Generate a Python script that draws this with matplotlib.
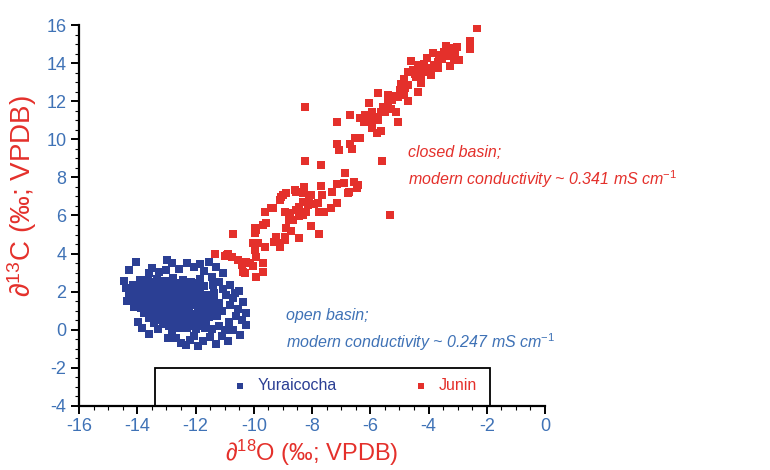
import matplotlib
matplotlib.use("Agg")
import matplotlib.pyplot as plt
from matplotlib.patches import Rectangle
from matplotlib.ticker import AutoMinorLocator

plt.rcParams['font.family'] = ['Liberation Sans', 'DejaVu Sans']
plt.rcParams['mathtext.fontset'] = 'custom'
plt.rcParams['mathtext.rm'] = 'Liberation Sans'
plt.rcParams['mathtext.it'] = 'Liberation Sans:italic'

# ---- data (d18O, d13C) ----
junin = [
    (-2.32, 15.83), (-2.58, 15.18), (-2.57, 14.74), (-3.02, 14.83), (-3.40, 14.90), (-3.29, 14.78),
    (-3.08, 14.50), (-3.46, 14.60), (-3.63, 14.40), (-2.95, 14.16), (-3.12, 14.16), (-3.25, 13.86),
    (-3.68, 14.07), (-3.80, 13.90), (-4.04, 14.25), (-3.91, 13.73), (-3.68, 13.73), (-4.08, 13.55),
    (-3.91, 13.38), (-4.30, 13.64), (-4.36, 13.90), (-4.59, 14.13), (-4.53, 13.64), (-4.70, 13.55),
    (-4.25, 13.20), (-4.42, 13.29), (-4.25, 12.94), (-4.85, 13.17), (-4.70, 12.85), (-4.79, 12.71),
    (-4.98, 12.59), (-4.84, 12.33), (-4.72, 12.01), (-4.36, 12.47), (-5.27, 12.29), (-5.38, 12.33),
    (-5.24, 12.06), (-5.38, 12.01), (-5.72, 12.41), (-6.04, 11.92), (-5.13, 11.45), (-5.49, 11.42),
    (-5.64, 11.45), (-5.95, 11.45), (-5.89, 11.19), (-6.17, 11.28), (-6.34, 11.10), (-6.68, 11.28),
    (-5.72, 11.01), (-6.12, 10.89), (-5.04, 10.92), (-7.13, 10.89), (-3.55, 14.20), (-3.35, 14.35),
    (-4.15, 13.95), (-4.45, 13.45), (-3.85, 14.55), (-4.95, 12.90), (-5.05, 12.20), (-5.55, 11.70),
    (-5.30, 11.60),
    (-8.23, 11.68), (-6.23, 10.92), (-6.00, 11.01), (-5.83, 11.19), (-5.95, 10.58), (-5.78, 10.31),
    (-5.63, 10.45), (-6.51, 10.05), (-6.34, 10.05), (-7.13, 9.75), (-7.08, 9.44), (-6.68, 9.75),
    (-6.63, 9.49), (-8.23, 8.88), (-7.68, 8.65), (-5.58, 8.88), (-6.85, 8.21),
    (-6.91, 7.69), (-7.13, 7.65), (-6.57, 7.74), (-6.42, 7.60), (-6.77, 7.20), (-7.30, 7.22),
    (-7.70, 7.55), (-7.64, 7.08), (-7.13, 6.64), (-7.36, 6.38), (-7.59, 6.20), (-5.32, 6.03),
    (-8.26, 7.51), (-8.55, 7.25), (-8.89, 7.20), (-8.32, 7.16), (-8.04, 7.08), (-9.06, 6.99),
    (-8.32, 6.73), (-8.15, 6.55), (-7.93, 6.60), (-8.55, 6.29), (-8.75, 6.15), (-8.94, 6.20),
    (-8.21, 6.20), (-7.76, 6.17), (-8.44, 5.97), (-9.40, 6.38), (-9.62, 6.20), (-9.57, 5.59),
    (-9.68, 5.50), (-8.78, 5.76), (-8.89, 5.33), (-8.72, 5.20), (-8.04, 5.45), (-7.76, 5.03),
    (-8.44, 4.80), (-9.23, 4.89), (-9.29, 4.63), (-8.94, 4.71), (-9.91, 5.24), (-9.85, 4.54),
    (-9.62, 4.36), (-9.11, 4.36),
    (-10.72, 5.03), (-9.96, 5.33), (-9.96, 5.07), (-10.02, 4.54), (-9.96, 4.19), (-9.91, 3.84),
    (-9.68, 3.49), (-10.25, 3.58), (-10.42, 3.40), (-10.31, 2.97), (-10.53, 3.66), (-10.93, 3.93),
    (-10.76, 3.84), (-11.32, 3.98), (-10.98, 3.87), (-10.87, 4.00), (-10.02, 3.35), (-9.91, 2.79),
    (-9.68, 3.05), (-10.36, 3.05), (-10.13, 3.49),
    (-9.00, 7.08), (-9.11, 6.81), (-9.34, 6.38), (-8.60, 7.34), (-8.10, 6.99), (-7.81, 6.64),
    (-8.44, 6.47), (-8.66, 5.76), (-8.32, 6.03), (-8.94, 4.89), (-9.11, 4.54), (-6.74, 7.25),
    (-6.45, 7.43),
]

yuraicocha = [
    (-14.29, 3.14), (-14.04, 3.58), (-14.38, 2.18), (-14.16, 2.35), (-14.27, 1.83), (-13.99, 0.43),
    (-12.97, 3.66), (-12.80, 3.49), (-13.02, 3.14), (-13.48, 3.23), (-13.25, 3.05), (-13.59, 2.97),
    (-13.76, 2.61), (-12.80, -0.10), (-12.68, -0.45), (-12.51, -0.71), (-12.34, -0.80), (-12.74, 0.25),
    (-11.55, 3.58), (-11.28, 3.31), (-11.04, 2.97), (-10.81, 2.35), (-10.64, 1.92), (-10.36, 1.47),
    (-10.25, 0.87), (-10.42, 0.51), (-10.25, 0.25), (-10.47, -0.27), (-10.70, -0.01),
    (-12.30, 3.50), (-12.05, 3.30), (-11.85, 3.45), (-12.55, 3.20), (-14.45, 2.55), (-14.10, 1.20),
    (-14.35, 1.50), (-13.85, 0.10), (-13.60, -0.20), (-13.30, 0.05), (-12.95, -0.45), (-12.20, -0.55),
    (-12.05, -0.30), (-11.90, -0.85), (-11.75, -0.60), (-11.50, -0.40), (-11.30, -0.75), (-11.10, -0.35),
    (-10.90, -0.60), (-11.00, 0.00), (-11.20, 0.20), (-10.85, 0.40), (-10.60, 0.75), (-10.55, 1.10),
    (-10.80, 1.30), (-10.70, 1.65), (-10.95, 1.85), (-11.05, 2.15), (-11.20, 2.50), (-11.45, 2.75),
    (-11.70, 3.10), (-11.35, 1.60), (-11.10, 1.00), (-11.25, 0.70), (-11.40, 1.25), (-10.50, 2.05),
    (-13.90, 2.62), (-13.62, 2.55), (-13.31, 2.66), (-13.04, 2.58), (-12.77, 2.70), (-12.43, 2.60),
    (-12.16, 2.52), (-11.86, 2.64), (-14.02, 2.33), (-13.74, 2.40), (-13.47, 2.30), (-13.18, 2.38),
    (-12.92, 2.28), (-12.61, 2.41), (-12.28, 2.32), (-12.02, 2.37), (-11.71, 2.29), (-11.41, 2.35),
    (-14.10, 2.08), (-13.83, 2.14), (-13.56, 2.05), (-13.28, 2.12), (-13.01, 2.03), (-12.69, 2.15),
    (-12.42, 2.07), (-12.11, 2.11), (-11.84, 2.02), (-13.96, 1.88), (-13.68, 1.93), (-13.41, 1.84),
    (-13.14, 1.91), (-12.86, 1.86), (-12.53, 1.95), (-12.26, 1.83), (-11.93, 1.90), (-11.63, 1.85),
    (-11.36, 1.92), (-14.16, 1.63), (-13.86, 1.68), (-13.58, 1.60), (-13.31, 1.70), (-13.03, 1.62),
    (-12.74, 1.67), (-12.46, 1.58), (-12.13, 1.65), (-11.81, 1.61), (-11.54, 1.69), (-14.01, 1.38),
    (-13.72, 1.43), (-13.44, 1.36), (-13.19, 1.45), (-12.88, 1.37), (-12.59, 1.42), (-12.31, 1.35),
    (-11.98, 1.44), (-11.69, 1.39), (-11.44, 1.33), (-11.18, 1.41), (-13.88, 1.14), (-13.61, 1.18),
    (-13.33, 1.10), (-13.06, 1.16), (-12.79, 1.12), (-12.48, 1.19), (-12.21, 1.09), (-11.90, 1.15),
    (-11.58, 1.12), (-11.31, 1.17), (-13.76, 0.88), (-13.49, 0.93), (-13.22, 0.86), (-12.94, 0.91),
    (-12.64, 0.87), (-12.36, 0.94), (-12.04, 0.85), (-11.74, 0.90), (-11.48, 0.86), (-13.58, 0.63),
    (-13.29, 0.68), (-13.01, 0.60), (-12.71, 0.66), (-12.39, 0.62), (-12.09, 0.69), (-11.79, 0.61),
    (-11.53, 0.67), (-13.41, 0.37), (-13.12, 0.33), (-12.84, 0.39), (-12.52, 0.31), (-12.19, 0.36),
    (-11.88, 0.32), (-11.63, 0.38), (-12.58, 0.08), (-12.28, 0.12), (-11.97, 0.05), (-11.68, 0.10),
    (-11.42, 0.04),
    (-13.76, 2.48), (-13.45, 2.50), (-13.16, 2.47), (-12.89, 2.51), (-12.58, 2.46), (-12.30, 2.49),
    (-12.00, 2.45), (-13.95, 2.22), (-13.61, 2.25), (-13.33, 2.20), (-13.05, 2.24), (-12.76, 2.19),
    (-12.46, 2.26), (-12.15, 2.21), (-11.87, 2.23), (-13.70, 2.00), (-13.43, 1.98), (-13.15, 2.01),
    (-12.84, 1.97), (-12.56, 2.00), (-12.25, 1.99), (-11.98, 2.00), (-14.05, 1.76), (-13.80, 1.79),
    (-13.52, 1.75), (-13.24, 1.80), (-12.95, 1.77), (-12.66, 1.78), (-12.38, 1.74), (-12.04, 1.79),
    (-11.72, 1.76), (-13.86, 1.53), (-13.57, 1.50), (-13.30, 1.55), (-13.00, 1.51), (-12.72, 1.54),
    (-12.42, 1.49), (-12.15, 1.53), (-11.84, 1.50), (-11.57, 1.52), (-13.78, 1.27), (-13.50, 1.25),
    (-13.22, 1.29), (-12.95, 1.24), (-12.66, 1.28), (-12.38, 1.26), (-12.07, 1.29), (-11.78, 1.25),
    (-11.50, 1.24), (-13.62, 1.02), (-13.36, 0.99), (-13.09, 1.03), (-12.82, 0.98), (-12.52, 1.01),
    (-12.22, 0.99), (-11.92, 1.03), (-11.63, 0.99), (-13.45, 0.77), (-13.17, 0.75), (-12.88, 0.79),
    (-12.57, 0.74), (-12.26, 0.78), (-11.95, 0.76), (-11.67, 0.78), (-13.25, 0.52), (-12.96, 0.49),
    (-12.65, 0.53), (-12.34, 0.50), (-12.03, 0.47), (-11.76, 0.52), (-12.92, 0.20), (-12.44, 0.22),
    (-12.12, 0.18), (-11.82, 0.21),
]

series_names = ["Yuraicocha", "Junin"]
x_ticks = [-16, -14, -12, -10, -8, -6, -4, -2, 0]
y_ticks = [-4, -2, 0, 2, 4, 6, 8, 10, 12, 14, 16]

BLUE_PT = "#2b3f94"
BLUE_TXT = "#3f72b6"
RED = "#e4302b"

fig = plt.figure(figsize=(7.7, 4.7), dpi=100)
ax = fig.add_axes([0.1026, 0.1362, 0.6052, 0.8106])

yx, yy = zip(*yuraicocha)
jx, jy = zip(*junin)
ax.scatter(yx, yy, s=28, marker='s', color=BLUE_PT, linewidths=0, label=series_names[0], zorder=3)
ax.scatter(jx, jy, s=26, marker='s', color=RED, linewidths=0, label=series_names[1], zorder=3)

ax.set_xlim(-16, 0)
ax.set_ylim(-4, 16)
ax.set_xticks(x_ticks)
ax.set_yticks(y_ticks)
ax.set_xticklabels([str(t) for t in x_ticks])
ax.set_yticklabels([str(t) for t in y_ticks])
ax.xaxis.set_minor_locator(AutoMinorLocator(4))
ax.yaxis.set_minor_locator(AutoMinorLocator(4))
for s in ['top', 'right']:
    ax.spines[s].set_visible(False)
for s in ['left', 'bottom']:
    ax.spines[s].set_linewidth(1.6)
ax.tick_params(which='major', direction='out', length=6, width=1.4, labelsize=13,
               labelcolor=BLUE_TXT, pad=3)
ax.tick_params(which='minor', direction='out', length=3, width=0.8)

ax.set_xlabel('∂$^{18}$O (‰; VPDB)', color=RED, fontsize=17, labelpad=2)
ax.set_ylabel('∂$^{13}$C (‰; VPDB)', color=RED, fontsize=20, labelpad=4)
ax.yaxis.set_label_coords(-0.085, 0.55)

# legend box
ax.add_patch(Rectangle((-13.4, -4), 11.5, 2, fill=False, edgecolor='black', linewidth=1.3,
                       zorder=2, clip_on=False))
leg = ax.legend(loc='center', bbox_to_anchor=(-6.55, -2.95), bbox_transform=ax.transData,
                ncol=2, frameon=False, fontsize=11.5, handletextpad=0.6,
                columnspacing=4.8, handlelength=1.0)
for t, c in zip(leg.get_texts(), [BLUE_PT, RED]):
    t.set_color(c)
for h in leg.legend_handles:
    h.set_sizes([14])

ax.text(-4.7, 7.35, 'closed basin;\nmodern conductivity ~ 0.341 mS cm$^{-1}$', color=RED,
        fontsize=11.5, style='italic', ha='left', va='bottom', linespacing=1.5, clip_on=False)
ax.text(-8.9, -1.2, 'open basin;\nmodern conductivity ~ 0.247 mS cm$^{-1}$', color=BLUE_TXT,
        fontsize=11.5, style='italic', ha='left', va='bottom', linespacing=1.5, clip_on=False)

fig.savefig('out.png', dpi=100, facecolor='white')
